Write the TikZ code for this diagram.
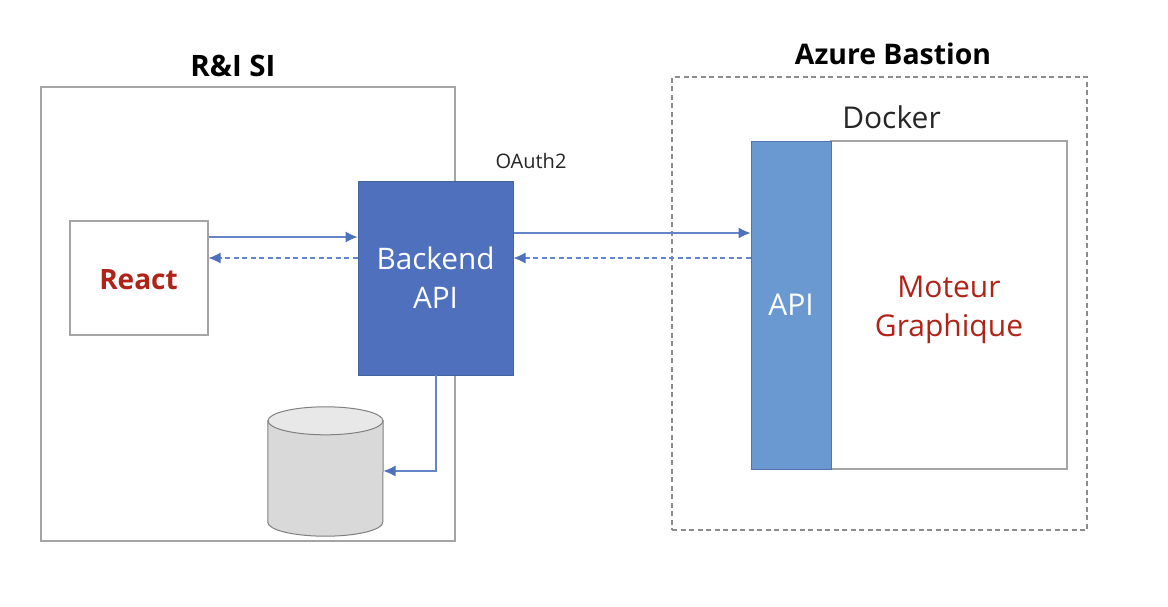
\documentclass[tikz,border=0pt]{standalone}
\usepackage{fontspec}
\setmainfont{Open Sans}
\usetikzlibrary{arrows.meta,calc}
\definecolor{blueA}{HTML}{4F71BD}
\definecolor{blueE}{HTML}{44649F}
\definecolor{blueB}{HTML}{6999D0}
\definecolor{linkc}{HTML}{6585CB}
\definecolor{frame}{HTML}{A5A5A5}
\definecolor{redt}{HTML}{B02318}
\tikzset{
  box/.style={draw=frame,line width=1.1pt,fill=white,inner sep=0pt,align=center},
  link/.style={draw=linkc,line width=1.1pt,-{Latex[length=12pt,width=11pt,color=blueA]}},
  backlink/.style={link,dash pattern=on 5pt off 3.5pt},
  lbl/.style={inner sep=0pt,align=center}
}
\begin{document}
\begin{tikzpicture}[x=1pt,y=-1pt]
\useasboundingbox (0,0) rectangle (1168,606);
\fill[white] (0,0) rectangle (1168,606);
% containers
\node[box,minimum width=414pt,minimum height=454pt] (ri) at (248,314) {};
\node[draw=frame!85!black,line width=1.1pt,dash pattern=on 5pt off 3.5pt,inner sep=0pt,minimum width=415pt,minimum height=453pt] (bastion) at (879.5,303.5) {};
\node[lbl,font=\bfseries\fontsize{29.5}{30}\selectfont] (ritl) at (233,66) {R\&I SI};
\node[lbl,font=\bfseries\fontsize{28.4}{30}\selectfont] (aztl) at (893,54) {Azure Bastion};
\node[lbl,font=\fontsize{30}{34}\selectfont,text=black!85] (dock) at (891.5,117) {Docker};
\node[lbl,font=\fontsize{20}{24}\selectfont,text=black!85] (oauth) at (531,161) {OAuth2};
% React
\node[box,minimum width=138pt,minimum height=114pt] (react) at (139,278) {};
\node[lbl,text=redt,font=\bfseries\fontsize{28}{32}\selectfont] (reacttxt) at (138.5,280) {React};
% Backend
\node[draw=blueE,fill=blueA,line width=1pt,inner sep=0pt,minimum width=155pt,minimum height=194pt,text=white,align=center,font=\fontsize{29.7}{39}\selectfont] (back) at (435.5,278) {Backend\\API};
% Docker
\node[box,minimum width=236pt,minimum height=328pt] (moteur) at (949,305) {};
\node[lbl,text=redt,font=\fontsize{30}{39}\selectfont] (motxt) at (949,310) {Moteur\\Graphique};
\node[draw=blueE!70!blueB,fill=blueB,line width=0.9pt,inner sep=0pt,minimum width=80pt,minimum height=328pt,text=white,font=\fontsize{30}{34}\selectfont] (api) at (791,305) {API};
% database
\node[inner sep=0pt,minimum width=115pt,minimum height=129pt] (db) at (325.5,471.5) {};
\draw[draw=black!50,line width=1pt,fill=black!15]
  ($(db.north west)+(0,14)$) -- ($(db.south west)+(0,-14)$)
  arc[start angle=180,end angle=360,x radius=57.5pt,y radius=14pt]
  -- ($(db.north east)+(0,14)$) -- cycle;
\draw[draw=black!50,line width=1pt,fill=black!9]
  ($(db.north)+(0,14)$) ellipse[x radius=57.5pt,y radius=14pt];
% connectors
\coordinate (rout) at (react.east |- 0,237);
\coordinate (bin) at (back.west |- 0,237);
\draw[link] (rout) -- (bin);
\coordinate (bout) at (back.west |- 0,258);
\coordinate (rin) at (react.east |- 0,258);
\draw[backlink] (bout) -- (rin);
\coordinate (b2) at (back.east |- 0,233);
\coordinate (a2) at (api.west |- 0,233);
\draw[link] (b2) -- (a2);
\coordinate (a3) at (api.west |- 0,258);
\coordinate (b3) at (back.east |- 0,258);
\draw[backlink] (a3) -- (b3);
\coordinate (bs) at (436,375);
\coordinate (dbin) at (383.5,471);
\draw[link] (bs) |- (dbin);
\end{tikzpicture}
\end{document}
